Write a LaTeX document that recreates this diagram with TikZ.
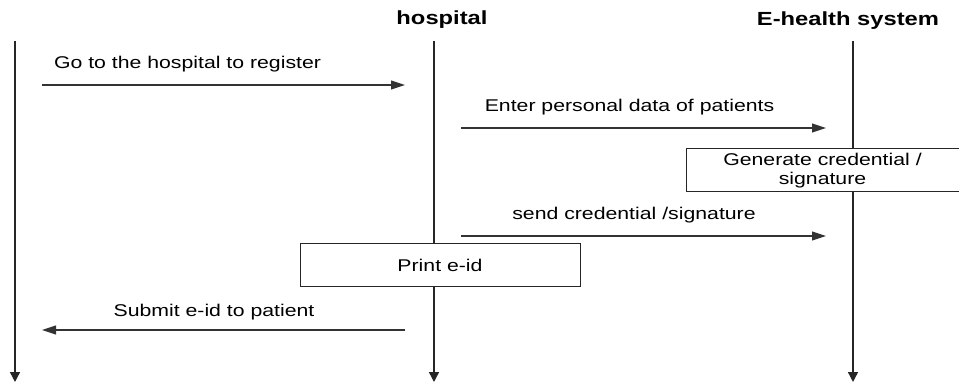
\documentclass[tikz,border=0pt]{standalone}
\usepackage{fontspec}
\setmainfont{Liberation Sans}[FakeStretch=1.25]
\usetikzlibrary{arrows.meta}
\begin{document}
\begin{tikzpicture}[x=1pt,y=-1pt,
  lifeline/.style={line width=1.4pt, draw=black!85, -{Triangle[length=10pt,width=10pt]}},
  msg/.style={line width=1.1pt, draw=black!80, -{Triangle[length=14pt,width=9pt]}},
  lbl/.style={font=\fontsize{17}{20}\selectfont, inner sep=0pt},
  title/.style={font=\fontsize{19}{22}\selectfont\bfseries, inner sep=0pt},
  actbox/.style={draw=black!85, line width=1pt, fill=white, inner sep=0pt, align=center, font=\fontsize{17}{19}\selectfont}]
\useasboundingbox (0,0) rectangle (959,382);
% titles
\node[title] (thosp) at (442,20) {hospital};
\node[title] (tehs) at (848,21) {E-health system};
% lifelines
\coordinate (p0) at (15,41);  \coordinate (p1) at (15,382);
\coordinate (h0) at (434,41); \coordinate (h1) at (434,382);
\coordinate (e0) at (853,41); \coordinate (e1) at (853,382);
\draw[lifeline] (p0) -- (p1);
\draw[lifeline] (h0) -- (h1);
\draw[lifeline] (e0) -- (e1);
% activity boxes
\node[actbox, minimum width=273pt, minimum height=43pt] (gen) at (822.5,170.5) {Generate credential /\\signature};
\node[actbox, minimum width=280pt, minimum height=43pt] (print) at (440,265.5) {Print e-id};
% messages
\coordinate (m1s) at (42,85);   \coordinate (m1e) at (405,85);
\coordinate (m2s) at (461,128); \coordinate (m2e) at (826,128);
\coordinate (m3s) at (461,236); \coordinate (m3e) at (826,236);
\coordinate (m4s) at (405,330); \coordinate (m4e) at (42,330);
\draw[msg] (m1s) -- (m1e);
\draw[msg] (m2s) -- (m2e);
\draw[msg] (m3s) -- (m3e);
\draw[msg] (m4s) -- (m4e);
% labels
\node[lbl] (l1) at (187.5,64) {Go to the hospital to register};
\node[lbl] (l2) at (629.5,107) {Enter personal data of patients};
\node[lbl] (l3) at (634,215) {send credential /signature};
\node[lbl] (l4) at (214,312) {Submit e-id to patient};
\end{tikzpicture}
\end{document}
